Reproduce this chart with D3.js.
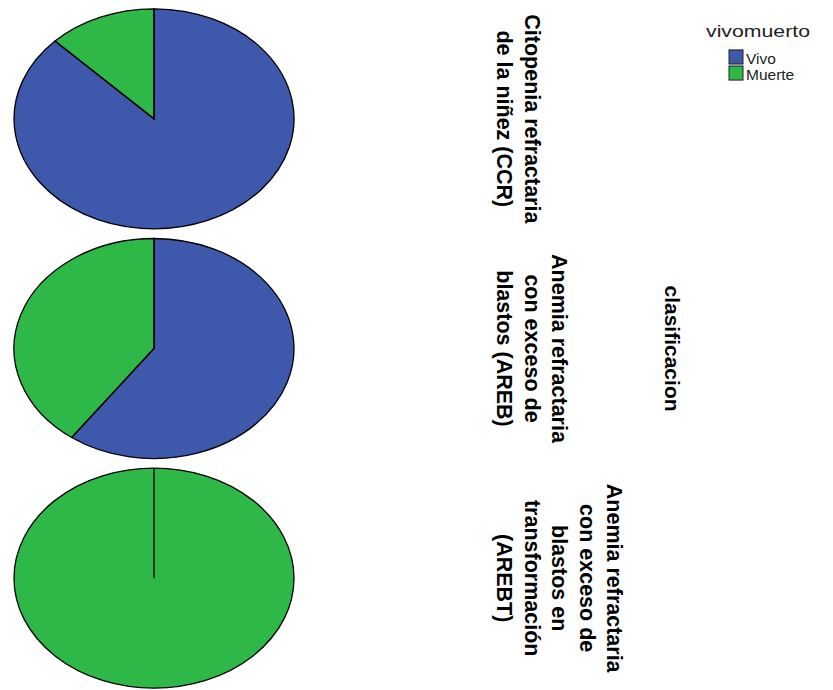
<!DOCTYPE html>
<html>
<head>
<meta charset="utf-8">
<script src="https://cdn.jsdelivr.net/npm/d3@7"></script>
<style>
  html, body { margin: 0; padding: 0; background: #fff; }
  svg { display: block; }
</style>
</head>
<body>
<svg id="chart" width="833" height="690"></svg>
<script>
// ---- data ----
const series = ["Vivo", "Muerte"];
const seriesColors = ["#3E58AC", "#2EB848"];
const categories = [
  ["Citopenia refractaria", "de la niñez (CCR)"],
  ["Anemia refractaria", "con exceso de", "blastos (AREB)"],
  ["Anemia refractaria", "con exceso de", "blastos en", "transformación", "(AREBT)"]
];
const vivoCounts = [7, 3, 0];
const muerteCounts = [1, 2, 2];
const panelTitle = "clasificacion";
const legendTitle = "vivomuerto";

// ---- layout ----
const svg = d3.select("#chart");
const font = "'Liberation Sans', Arial, sans-serif";

const rx = 140, ry = 110, cx = 154;
const yBand = d3.scaleBand().domain(d3.range(categories.length)).range([4, 693]).padding(0);

const pie = d3.pie().sort(null).value(d => d.v);
const arc = d3.arc().innerRadius(0).outerRadius(1);
const color = d3.scaleOrdinal().domain(series).range(seriesColors);

categories.forEach((lines, i) => {
  const data = series.map((s, j) => ({ s, v: j === 0 ? vivoCounts[i] : muerteCounts[i] }));
  const arcs = pie(data);
  const cy = yBand(i) + yBand.bandwidth() / 2;
  const g = svg.append("g").attr("transform", `translate(${cx},${cy}) scale(${rx},${ry})`);
  g.selectAll("path.fill").data(arcs).join("path")
    .attr("class", "fill")
    .attr("d", arc)
    .attr("fill", d => color(d.data.s))
    .attr("stroke", "none");
  g.selectAll("path.edge").data(arcs).join("path")
    .attr("class", "edge")
    .attr("d", arc)
    .attr("fill", "none")
    .attr("stroke", "#000")
    .attr("stroke-width", 1.3)
    .attr("vector-effect", "non-scaling-stroke");

  // rotated category label
  const n = lines.length;
  const lineGap = 27.5;
  const baseX = 497;
  lines.forEach((t, k) => {
    const x = baseX + (n - 1 - k) * lineGap;
    svg.append("text")
      .attr("transform", `translate(${x},${cy}) rotate(90)`)
      .attr("text-anchor", "middle")
      .attr("font-family", font)
      .attr("font-weight", "bold")
      .attr("font-size", 21.5)
      .attr("fill", "#000")
      .text(t);
  });
});

// panel title
svg.append("text")
  .attr("transform", `translate(665,${yBand(1) + yBand.bandwidth() / 2}) rotate(90)`)
  .attr("text-anchor", "middle")
  .attr("font-family", font)
  .attr("font-weight", "bold")
  .attr("font-size", 21)
  .attr("fill", "#000")
  .text(panelTitle);

// legend
svg.append("text")
  .attr("transform", "translate(706,37) scale(1.33,1)")
  .attr("font-family", font)
  .attr("font-size", 16)
  .attr("fill", "#222")
  .text(legendTitle);
const ly = d3.scaleBand().domain(series).range([48, 82]).padding(0.12);
const items = svg.selectAll("g.item").data(series).join("g").attr("class", "item")
  .attr("transform", d => `translate(729,${ly(d)})`);
items.append("rect")
  .attr("width", 14).attr("height", ly.bandwidth())
  .attr("fill", d => color(d))
  .attr("stroke", "#222").attr("stroke-width", 1);
items.append("text")
  .attr("transform", `translate(17,${ly.bandwidth() - 0.5}) scale(1.07,1)`)
  .attr("font-family", font)
  .attr("font-size", 14.5)
  .attr("fill", "#222")
  .text(d => d);
</script>
</body>
</html>
